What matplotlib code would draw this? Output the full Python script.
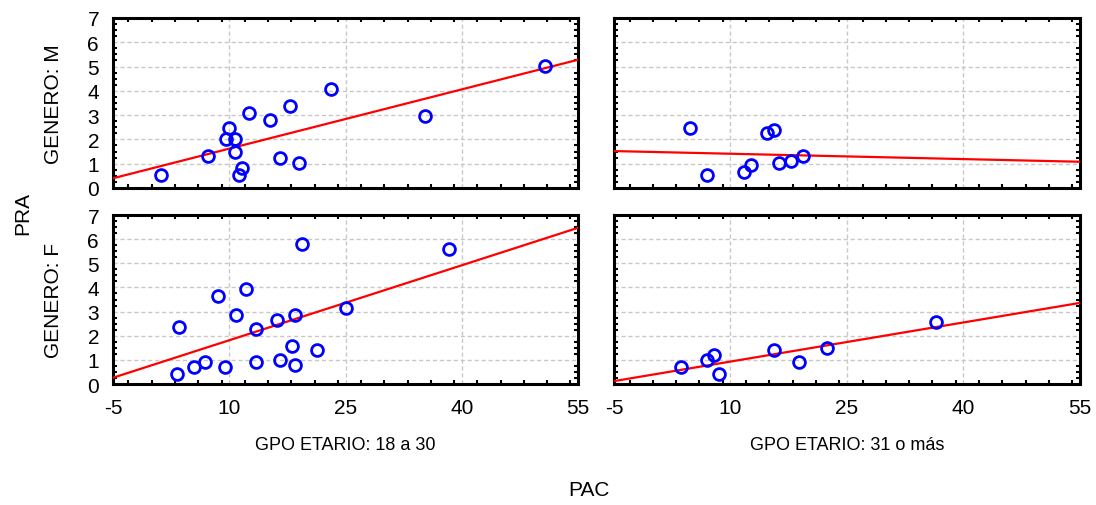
import numpy as np
import matplotlib
matplotlib.use("Agg")
import matplotlib.pyplot as plt
from matplotlib.ticker import MultipleLocator, FixedLocator

plt.rcParams.update({"font.family": ["Liberation Sans", "DejaVu Sans"], "font.size": 13,
                     "axes.unicode_minus": False})

# ---- data ---------------------------------------------------------------
# top-left: GENERO M, GPO ETARIO 18 a 30
m_young_x = [1.2, 7.2, 10.0, 9.6, 10.7, 10.7, 11.6, 11.2, 12.5, 15.2, 16.5, 17.8, 19.0, 23.1, 35.2, 50.8]
m_young_y = [0.55, 1.32, 2.48, 2.0, 2.0, 1.5, 0.83, 0.53, 3.07, 2.78, 1.22, 3.38, 1.02, 4.06, 2.97, 5.02]
# top-right: GENERO M, GPO ETARIO 31 o mas
m_old_x = [4.8, 7.0, 11.7, 12.6, 14.7, 15.6, 16.3, 17.8, 19.4]
m_old_y = [2.49, 0.53, 0.64, 0.95, 2.28, 2.40, 1.03, 1.12, 1.33]
# bottom-left: GENERO F, GPO ETARIO 18 a 30
f_young_x = [3.2, 5.4, 6.9, 9.5, 3.5, 8.5, 12.2, 10.9, 13.5, 13.4, 16.2, 16.5, 18.5, 18.1, 18.5, 21.3, 19.4, 25.0, 38.4]
f_young_y = [0.42, 0.69, 0.91, 0.69, 2.36, 3.65, 3.93, 2.85, 2.26, 0.91, 2.66, 0.99, 2.87, 1.59, 0.80, 1.39, 5.80, 3.15, 5.60]
# bottom-right: GENERO F, GPO ETARIO 31 o mas
f_old_x = [3.6, 7.0, 7.9, 8.5, 15.6, 18.8, 22.4, 36.4]
f_old_y = [0.71, 0.99, 1.22, 0.41, 1.40, 0.90, 1.49, 2.57]

# fitted line values at the x-limits (-5, 55), per panel
fit_x = [-5, 55]
m_young_fit = [0.40, 5.28]
m_old_fit = [1.52, 1.08]
f_young_fit = [0.26, 6.47]
f_old_fit = [0.12, 3.36]

row_labels = ["GENERO: M", "GENERO: F"]
col_labels = ["GPO ETARIO: 18 a 30", "GPO ETARIO: 31 o más"]
x_ticks = [-5, 10, 25, 40, 55]
y_ticks = [0, 1, 2, 3, 4, 5, 6, 7]

panels = [
    [(m_young_x, m_young_y, m_young_fit), (m_old_x, m_old_y, m_old_fit)],
    [(f_young_x, f_young_y, f_young_fit), (f_old_x, f_old_y, f_old_fit)],
]

fig = plt.figure(figsize=(10.96, 5.06), dpi=100)
lefts = [0.1031, 0.5602]
widths = [0.4243, 0.4252]
bottoms = [0.6265, 0.2391]
heights = [0.336, 0.334]

for r in range(2):
    for c in range(2):
        ax = fig.add_axes([lefts[c], bottoms[r], widths[c], heights[r]])
        xs, ys, fit = panels[r][c]
        ax.plot(fit_x, fit, color="#ff0000", lw=1.6, zorder=3)
        ax.plot(xs, ys, "o", ms=8.5, mfc="none", mec="#0000ff", mew=2, zorder=4, clip_on=False)
        ax.set_xlim(-5, 55)
        ax.set_ylim(0, 7)
        ax.xaxis.set_major_locator(FixedLocator(x_ticks))
        ax.yaxis.set_major_locator(FixedLocator(y_ticks))
        ax.xaxis.set_minor_locator(MultipleLocator(3))
        ax.yaxis.set_minor_locator(MultipleLocator(0.25))
        ax.tick_params(which="major", length=0, pad=10, labelsize=15)
        ax.tick_params(which="minor", direction="in", length=3, width=1.5,
                       top=True, bottom=True, left=True, right=True)
        ax.grid(True, which="major", color="#c8c8c8", ls=(0, (3, 2)), lw=1)
        for s in ax.spines.values():
            s.set_linewidth(2.2)
        if c == 1:
            ax.set_yticklabels([])
        else:
            ax.set_ylabel(row_labels[r], fontsize=15)
            ax.yaxis.set_label_coords(-0.108, 0.5)
        if r == 0:
            ax.set_xticklabels([])

for c in range(2):
    fig.text(lefts[c] + widths[c] / 2, 0.1186, col_labels[c], ha="center", va="center", fontsize=13)
fig.text(0.021, 0.579, "PRA", rotation=90, ha="center", va="center", fontsize=15)
fig.text(0.537, 0.030, "PAC", ha="center", va="center", fontsize=15)

fig.savefig("out.png", dpi=100)
